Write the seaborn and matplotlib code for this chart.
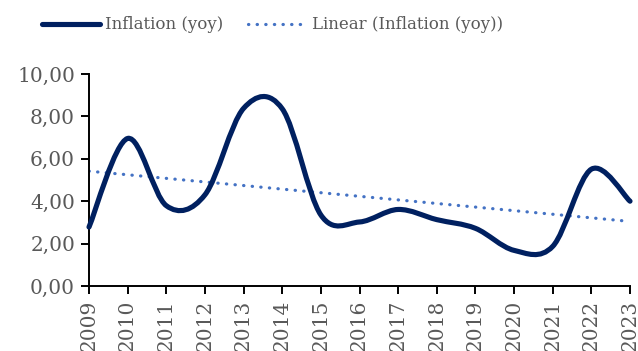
import numpy as np
import pandas as pd
import matplotlib
matplotlib.use("Agg")
import matplotlib.pyplot as plt
from matplotlib.path import Path
from matplotlib.patches import PathPatch
from matplotlib.lines import Line2D
from matplotlib.ticker import FuncFormatter
import seaborn as sns

years = [2009, 2010, 2011, 2012, 2013, 2014, 2015, 2016,
         2017, 2018, 2019, 2020, 2021, 2022, 2023]
inflation = [2.78, 6.96, 3.79, 4.30, 8.38, 8.36, 3.35, 3.02,
             3.61, 3.13, 2.72, 1.68, 1.87, 5.51, 4.00]
series_name = "Inflation (yoy)"
trend_name = "Linear (Inflation (yoy))"

NAVY = "#002060"
TREND = "#4472C4"
GREY = "#595959"
DOTS = (0, (0.1, 2.6))

sns.set_theme(style="white")
plt.rcParams["font.family"] = ["DejaVu Serif", "DejaVu Sans"]

df = pd.DataFrame({"year": years, "value": inflation})

fig = plt.figure(figsize=(6.38, 3.51), dpi=100)
ax = fig.add_axes([0.1395, 0.1852, 0.848, 0.604])

# linear trend line (least squares) through the yearly values
sns.regplot(data=df, x="year", y="value", scatter=False, ci=None, ax=ax,
            truncate=True,
            line_kws=dict(color=TREND, lw=2.3, linestyle=DOTS))
for ln in ax.lines:
    ln.set_dash_capstyle("round")

# smoothed series: cubic Bezier segments through each yearly point
pts = np.column_stack([df["year"].to_numpy(float), df["value"].to_numpy(float)])
padded = np.vstack([pts[0], pts, pts[-1]])
verts = [tuple(pts[0])]
codes = [Path.MOVETO]
for i in range(len(pts) - 1):
    p_prev, p0, p1, p_next = padded[i], padded[i + 1], padded[i + 2], padded[i + 3]
    c1 = p0 + (p1 - p_prev) / 6.0
    c2 = p1 - (p_next - p0) / 6.0
    verts += [tuple(c1), tuple(c2), tuple(p1)]
    codes += [Path.CURVE4] * 3
patch = PathPatch(Path(verts, codes), facecolor="none", edgecolor=NAVY,
                  lw=3.7, capstyle="round", joinstyle="round", clip_on=False,
                  zorder=3)
ax.add_patch(patch)

ax.set_xlim(2009, 2023)
ax.set_ylim(0, 10)
ax.set_xticks(years)
ax.set_xticklabels([str(y) for y in years], rotation=90)
ax.set_yticks(np.arange(0, 10.01, 2))
ax.yaxis.set_major_formatter(FuncFormatter(lambda v, _: f"{v:.2f}".replace(".", ",")))
ax.set_xlabel("")
ax.set_ylabel("")

for side in ("top", "right"):
    ax.spines[side].set_visible(False)
for side in ("left", "bottom"):
    ax.spines[side].set_color("black")
    ax.spines[side].set_linewidth(1.4)
ax.tick_params(axis="both", which="major", direction="out", length=6,
               width=1.4, color="black", labelcolor=GREY, labelsize=14.5,
               left=True, bottom=True, pad=4)

handles = [
    Line2D([0], [0], color=NAVY, lw=3.7, solid_capstyle="round"),
    Line2D([0], [0], color=TREND, lw=2.3, linestyle=DOTS,
           dash_capstyle="round"),
]
leg = fig.legend(handles, [series_name, trend_name], loc="center",
                 bbox_to_anchor=(0.427, 0.929), ncol=2, frameon=False,
                 fontsize=12, handlelength=3.5, handletextpad=0.3,
                 columnspacing=1.5, borderaxespad=0)
for t in leg.get_texts():
    t.set_color(GREY)

fig.savefig("out.png", dpi=100)
